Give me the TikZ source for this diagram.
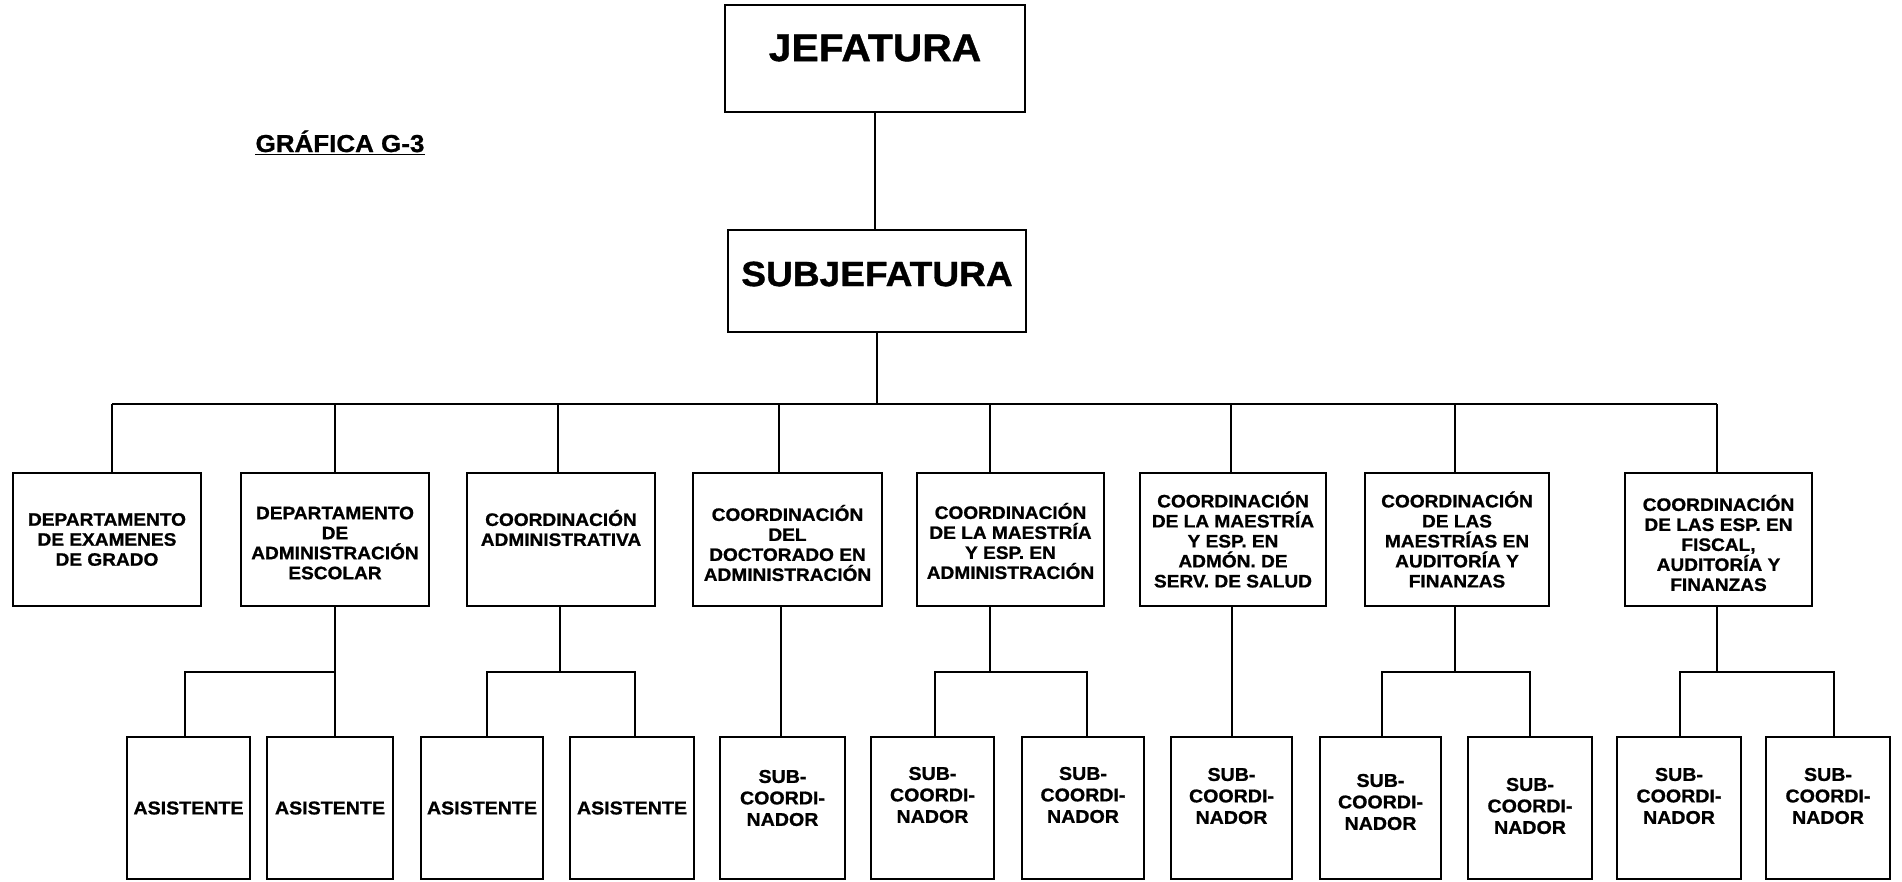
\documentclass[tikz,border=0pt]{standalone}
\usepackage{fontspec}
\setmainfont{Liberation Sans}[BoldFeatures={FakeStretch=1.06,FakeBold=1}]
\begin{document}
\begin{tikzpicture}[x=1pt,y=-1pt,
  box/.style={draw, line width=2.1pt, inner sep=0, minimum width=#1},
  midbox/.style={box=#1, minimum height=133},
  lowbox/.style={box=#1, minimum height=142},
  conn/.style={line width=1.8pt},
  busline/.style={line width=2.4pt},
  toptxt/.style={font=\bfseries\fontsize{38.5}{42}\selectfont, inner sep=0},
  midtxt/.style={font=\bfseries\fontsize{18}{20}\selectfont, align=center, inner sep=0},
  lowtxt/.style={font=\bfseries\fontsize{18.5}{21.5}\selectfont, align=center, inner sep=0}]

\useasboundingbox (0,0) rectangle (1902,881);
\fill[white] (0,0) rectangle (1902,881);

% title
\node[font=\bfseries\fontsize{24.5}{27}\selectfont, inner sep=0, anchor=base] (title) at (340,152) {GRÁFICA G-3};
\draw[line width=1.8pt] ([yshift=-2.5pt]title.base west) -- ([yshift=-2.5pt]title.base east);

% top levels
\node[box=300, minimum height=107] (jef) at (875,58.5) {};
\node[toptxt] (jeft) at ([yshift=10.5pt]jef.center) {JEFATURA};
\node[box=298, minimum height=102] (sub) at (877,281) {};
\node[toptxt, font=\bfseries\fontsize{35}{38}\selectfont] (subt) at ([yshift=7pt]sub.center) {SUBJEFATURA};

% second level
\node[midbox=188] (b1) at (107,539.5) {};
\node[midbox=188] (b2) at (335,539.5) {};
\node[midbox=188] (b3) at (561,539.5) {};
\node[midbox=189] (b4) at (787.5,539.5) {};
\node[midbox=187] (b5) at (1010.5,539.5) {};
\node[midbox=186] (b6) at (1233,539.5) {};
\node[midbox=184] (b7) at (1457,539.5) {};
\node[midbox=187] (b8) at (1718.5,539.5) {};

\node[midtxt] (t1) at (b1.center) {DEPARTAMENTO\\DE EXAMENES\\DE GRADO};
\node[midtxt] (t2) at ([yshift=-3.5pt]b2.center) {DEPARTAMENTO\\DE\\ADMINISTRACIÓN\\ESCOLAR};
\node[midtxt] (t3) at ([yshift=11.5pt]b3.center) {COORDINACIÓN\\ADMINISTRATIVA};
\node[midtxt] (t4) at ([yshift=-3.5pt]b4.center) {COORDINACIÓN\\DEL\\DOCTORADO EN\\ADMINISTRACIÓN};
\node[midtxt] (t5) at ([yshift=-1.5pt]b5.center) {COORDINACIÓN\\DE LA MAESTRÍA\\Y ESP. EN\\ADMINISTRACIÓN};
\node[midtxt] (t6) at (b6.center) {COORDINACIÓN\\DE LA MAESTRÍA\\Y ESP. EN\\ADMÓN. DE\\SERV. DE SALUD};
\node[midtxt] (t7) at (b7.center) {COORDINACIÓN\\DE LAS\\MAESTRÍAS EN\\AUDITORÍA Y\\FINANZAS};
\node[midtxt] (t8) at ([yshift=-3.5pt]b8.center) {COORDINACIÓN\\DE LAS ESP. EN\\FISCAL,\\AUDITORÍA Y\\FINANZAS};

% third level
\node[lowbox=123] (a1) at (188.5,808) {};
\node[lowbox=126] (a2) at (330,808) {};
\node[lowbox=122] (a3) at (482,808) {};
\node[lowbox=124] (a4) at (632,808) {};
\node[lowbox=125] (s4) at (782.5,808) {};
\node[lowbox=123] (s5a) at (932.5,808) {};
\node[lowbox=122] (s5b) at (1083,808) {};
\node[lowbox=121] (s6) at (1231.5,808) {};
\node[lowbox=121] (s7a) at (1380.5,808) {};
\node[lowbox=124] (s7b) at (1530,808) {};
\node[lowbox=124] (s8a) at (1679,808) {};
\node[lowbox=124] (s8b) at (1828,808) {};

\node[lowtxt] (ta1) at (a1.center) {ASISTENTE};
\node[lowtxt] (ta2) at (a2.center) {ASISTENTE};
\node[lowtxt] (ta3) at (a3.center) {ASISTENTE};
\node[lowtxt] (ta4) at (a4.center) {ASISTENTE};
\node[lowtxt] (ts4) at ([yshift=10pt]s4.center) {SUB-\\COORDI-\\NADOR};
\node[lowtxt] (ts5a) at ([yshift=13pt]s5a.center) {SUB-\\COORDI-\\NADOR};
\node[lowtxt] (ts5b) at ([yshift=13pt]s5b.center) {SUB-\\COORDI-\\NADOR};
\node[lowtxt] (ts6) at ([yshift=12pt]s6.center) {SUB-\\COORDI-\\NADOR};
\node[lowtxt] (ts7a) at ([yshift=6pt]s7a.center) {SUB-\\COORDI-\\NADOR};
\node[lowtxt] (ts7b) at ([yshift=2pt]s7b.center) {SUB-\\COORDI-\\NADOR};
\node[lowtxt] (ts8a) at ([yshift=12pt]s8a.center) {SUB-\\COORDI-\\NADOR};
\node[lowtxt] (ts8b) at ([yshift=12pt]s8b.center) {SUB-\\COORDI-\\NADOR};

% upper connectors
\draw[conn] (jef.south) -- (jef.south |- sub.north);
\coordinate (busL) at (112,404);
\coordinate (busR) at (1717,404);
\draw[conn] (sub.south) -- (sub.south |- busL);
\draw[busline] (busL) -- (busR);
\foreach \n/\x in {b1/112, b2/335, b3/558, b4/779, b5/990, b6/1231, b7/1455, b8/1717}
  \draw[conn] (\x,404) -- (\x,404 |- \n.north);

% lower connectors: split level
\coordinate (k2) at (335,672);
\coordinate (k3) at (560,672);
\coordinate (k5) at (990,672);
\coordinate (k7) at (1455,672);
\coordinate (k8) at (1717,672);

\draw[conn] (k2 |- b2.south) -- (k2 |- a2.north);
\draw[conn] (k2) -- (185,672) -- (185,672 |- a1.north);

\draw[conn] (k3 |- b3.south) -- (k3);
\draw[conn] (487,672 |- a3.north) -- (487,672) -- (635,672) -- (635,672 |- a4.north);

\draw[conn] (781,0 |- b4.south) -- (781,0 |- s4.north);

\draw[conn] (k5 |- b5.south) -- (k5);
\draw[conn] (935,672 |- s5a.north) -- (935,672) -- (1087,672) -- (1087,672 |- s5b.north);

\draw[conn] (1232,0 |- b6.south) -- (1232,0 |- s6.north);

\draw[conn] (k7 |- b7.south) -- (k7);
\draw[conn] (1382,672 |- s7a.north) -- (1382,672) -- (1530,672) -- (1530,672 |- s7b.north);

\draw[conn] (k8 |- b8.south) -- (k8);
\draw[conn] (1680,672 |- s8a.north) -- (1680,672) -- (1834,672) -- (1834,672 |- s8b.north);

\end{tikzpicture}
\end{document}
